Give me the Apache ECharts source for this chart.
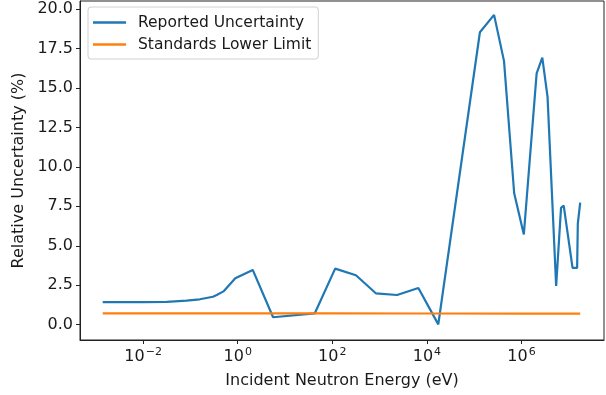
<!DOCTYPE html>
<html>
<head>
<meta charset="utf-8">
<title>Relative Uncertainty vs Incident Neutron Energy</title>
<script src="https://cdn.jsdelivr.net/npm/echarts@6/dist/echarts.min.js"></script>
<style>
  html, body { margin: 0; padding: 0; background: #fff; }
  #chart { width: 606px; height: 395px; }
</style>
</head>
<body>
<div id="chart"></div>
<script>
// Incident neutron energies (eV) for the reported uncertainty curve
const reportedEnergy = [
  1.4e-3, 0.01, 0.0316, 0.083, 0.158, 0.30, 0.36, 0.50, 0.89, 2.08,
  5.6, 42.7, 115, 316, 832, 2340, 6600, 1.74e4, 1.32e5, 2.63e5,
  4.27e5, 7.0e5, 1.12e6, 2.09e6, 2.75e6, 3.55e6, 5.4e6, 6.85e6, 7.8e6,
  1.2e7, 1.5e7, 1.55e7, 1.74e7
];
// Reported relative uncertainty (%)
const reportedValue = [
  1.43, 1.43, 1.45, 1.52, 1.61, 1.77, 1.88, 2.11, 2.94, 3.47,
  0.47, 0.72, 3.55, 3.13, 1.99, 1.88, 2.33, 0.02, 18.53, 19.63,
  16.7, 8.33, 5.72, 15.93, 16.92, 14.45, 2.45, 7.4, 7.55,
  3.6, 3.6, 6.4, 7.73
];
// Standards lower limit (%)
const limitEnergy = [1.4e-3, 1.0e2, 1.0e4, 1.0e6, 1.74e7];
const limitValue = [0.72, 0.72, 0.71, 0.70, 0.70];

// Tick positions: decade exponents on x, percentages on y
const xTickExponents = [-2, 0, 2, 4, 6];
const yTickValues = [0, 2.5, 5, 7.5, 10, 12.5, 15, 17.5, 20];

const toLogPairs = (xs, ys) => xs.map((e, i) => [Math.log10(e), ys[i]]);

const FONT = 'DejaVu Sans';
const INK = '#1a1a1a';
const FS = 16;

const chart = echarts.init(document.getElementById('chart'), null, { renderer: 'canvas' });

chart.setOption({
  animation: false,
  backgroundColor: '#fff',
  grid: {
    left: 80, right: 2, top: 1, bottom: 55,
    show: true, borderColor: '#222', borderWidth: 1,
    backgroundColor: 'transparent'
  },
  legend: {
    orient: 'vertical',
    left: 88, top: 7,
    padding: [7.5, 7, 6.5, 5],
    itemGap: 6,
    itemWidth: 33,
    itemHeight: 2.5,
    icon: 'rect',
    borderColor: '#d0d0d0',
    borderWidth: 1,
    borderRadius: 3,
    backgroundColor: 'rgba(255,255,255,0.8)',
    textStyle: { fontFamily: FONT, fontSize: 15.5, color: INK, lineHeight: 16, padding: [0, 0, 0, 7] },
    data: ['Reported Uncertainty', 'Standards Lower Limit']
  },
  xAxis: {
    type: 'value',
    min: -3.334, max: 7.744,
    name: 'Incident Neutron Energy (eV)',
    nameLocation: 'middle',
    nameGap: 33,
    nameTextStyle: { fontFamily: FONT, fontSize: FS, color: INK },
    splitLine: { show: false },
    axisLine: { show: true, onZero: false, lineStyle: { color: '#222', width: 1 } },
    axisTick: { show: true, length: 4, lineStyle: { color: '#222' }, customValues: xTickExponents },
    axisLabel: {
      customValues: xTickExponents,
      margin: 7,
      formatter: v => '{b|10}{s|' + (v < 0 ? '\u2212' + Math.abs(v) : String(v)) + '}',
      rich: {
        b: { fontFamily: FONT, fontSize: FS, color: INK },
        s: { fontFamily: FONT, fontSize: 11, color: INK, padding: [0, 0, 8, 1] }
      }
    }
  },
  yAxis: {
    type: 'value',
    min: -0.97, max: 20.51,
    name: 'Relative Uncertainty (%)',
    nameLocation: 'middle',
    nameGap: 51,
    nameTextStyle: { fontFamily: FONT, fontSize: FS, color: INK },
    splitLine: { show: false },
    axisLine: { show: true, onZero: false, lineStyle: { color: '#222', width: 1 } },
    axisTick: { show: true, length: 4, lineStyle: { color: '#222' }, customValues: yTickValues },
    axisLabel: {
      customValues: yTickValues,
      margin: 7,
      fontFamily: FONT, fontSize: FS, color: INK,
      formatter: v => v.toFixed(1)
    }
  },
  series: [
    {
      name: 'Reported Uncertainty',
      type: 'line',
      data: toLogPairs(reportedEnergy, reportedValue),
      showSymbol: false,
      symbol: 'none',
      color: '#1f77b4',
      lineStyle: { width: 2.2, color: '#1f77b4' }
    },
    {
      name: 'Standards Lower Limit',
      type: 'line',
      data: toLogPairs(limitEnergy, limitValue),
      showSymbol: false,
      symbol: 'none',
      color: '#ff7f0e',
      lineStyle: { width: 2.2, color: '#ff7f0e' }
    }
  ]
});
</script>
</body>
</html>
